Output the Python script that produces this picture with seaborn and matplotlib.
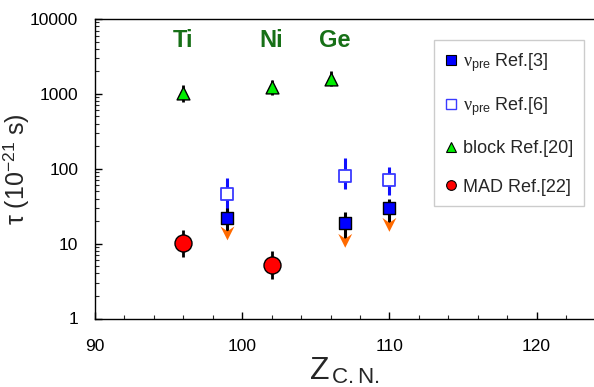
import numpy as np
import matplotlib
matplotlib.use("Agg")
import matplotlib.pyplot as plt
from matplotlib.lines import Line2D
from matplotlib.path import Path
import matplotlib.ticker as mticker
import seaborn as sns

# ---- data ----
z_ref3 = [99, 107, 110]
tau_ref3 = [22.3, 18.7, 29.7]
tau_ref3_hi = [30.0, 26.8, 39.3]
tau_ref3_limit = [13.7, 10.9, 17.8]

z_ref6 = [99, 107, 110]
tau_ref6 = [46.0, 81.0, 71.0]
tau_ref6_lo = [26.8, 53.4, 44.8]
tau_ref6_hi = [75.0, 139.0, 107.0]

z_block = [96, 102, 106]
tau_block = [1030.0, 1245.0, 1600.0]
tau_block_lo = [790.0, 980.0, 1270.0]
tau_block_hi = [1300.0, 1550.0, 2000.0]

z_mad = [96, 102]
tau_mad = [10.3, 5.2]
tau_mad_lo = [6.7, 3.4]
tau_mad_hi = [15.2, 7.9]

elements = ["Ti", "Ni", "Ge"]
element_z = [96, 102, 106.3]

y_ticks = [1, 10, 100, 1000, 10000]
x_ticks = [90, 100, 110, 120]

# ---- style ----
sns.set_style("ticks")
plt.rcParams["font.family"] = ["Liberation Sans", "DejaVu Sans"]
plt.rcParams["mathtext.fontset"] = "custom"
plt.rcParams["mathtext.rm"] = "Liberation Sans"
plt.rcParams["mathtext.it"] = "Liberation Serif"
plt.rcParams["mathtext.bf"] = "Liberation Sans:bold"

fig = plt.figure(figsize=(5.94, 3.87), dpi=100)
W, H = 594, 387
ax = fig.add_axes([95 / W, 1 - 318.5 / H, (594 - 95) / W, (318.5 - 19) / H])

ax.set_yscale("log")
ax.set_ylim(1, 10000)
ax.set_xlim(90, 90 + 499 / 14.72)

# error bars
ax.errorbar(z_ref6, tau_ref6,
            yerr=[np.subtract(tau_ref6, tau_ref6_lo), np.subtract(tau_ref6_hi, tau_ref6)],
            fmt="none", ecolor="#1010ff", elinewidth=2.2, capsize=0, zorder=2)
ax.errorbar(z_ref3, tau_ref3,
            yerr=[np.subtract(tau_ref3, tau_ref3_limit), np.subtract(tau_ref3_hi, tau_ref3)],
            fmt="none", ecolor="black", elinewidth=2.2, capsize=0, zorder=2)
ax.errorbar(z_block, tau_block,
            yerr=[np.subtract(tau_block, tau_block_lo), np.subtract(tau_block_hi, tau_block)],
            fmt="none", ecolor="black", elinewidth=2.0, capsize=0, zorder=2)
ax.errorbar(z_mad, tau_mad,
            yerr=[np.subtract(tau_mad, tau_mad_lo), np.subtract(tau_mad_hi, tau_mad)],
            fmt="none", ecolor="black", elinewidth=2.0, capsize=0, zorder=2)

# arrow (upper limit) marker
chevron = Path([(0, -1), (-1, 1), (0, 0.3), (1, 1), (0, -1)],
               [Path.MOVETO, Path.LINETO, Path.LINETO, Path.LINETO, Path.CLOSEPOLY])

sns.scatterplot(x=z_ref3, y=tau_ref3_limit, marker=chevron, s=100, color="#ff6a00",
                edgecolor="none", linewidth=0, ax=ax, zorder=3)
sns.scatterplot(x=z_ref6, y=tau_ref6, marker="s", s=75, color="white",
                edgecolor="#3a3aff", linewidth=1.3, ax=ax, zorder=4)
sns.scatterplot(x=z_ref3, y=tau_ref3, marker="s", s=85, color="#0000ff",
                edgecolor="black", linewidth=1.0, ax=ax, zorder=4)
sns.scatterplot(x=z_block, y=tau_block, marker="^", s=85, color="#00ee00",
                edgecolor="black", linewidth=1.0, ax=ax, zorder=4)
sns.scatterplot(x=z_mad, y=tau_mad, marker="o", s=150, color="#ff0000",
                edgecolor="black", linewidth=1.0, ax=ax, zorder=4)

for name, zx in zip(elements, element_z):
    ax.text(zx, 5200, name, color="#177017", fontsize=17, fontweight="bold",
            ha="center", va="center")

# axes styling
ax.spines["right"].set_visible(False)
for s in ["left", "bottom", "top"]:
    ax.spines[s].set_linewidth(1.0)
    ax.spines[s].set_color("black")

ax.set_yticks(y_ticks)
ax.yaxis.set_major_formatter(mticker.FixedFormatter([str(v) for v in y_ticks]))
ax.yaxis.set_minor_locator(mticker.LogLocator(base=10, subs=np.arange(2, 10)))
ax.yaxis.set_minor_formatter(mticker.NullFormatter())
ax.set_xticks(x_ticks)
ax.xaxis.set_minor_locator(mticker.MultipleLocator(2))

ax.tick_params(axis="both", which="major", direction="in", length=5, width=1,
               labelsize=12.5, colors="black", top=False, right=False)
ax.tick_params(axis="both", which="minor", direction="in", length=3, width=0.8,
               top=False, right=False)
ax.tick_params(axis="x", which="major", pad=15)
ax.tick_params(axis="y", which="major", pad=12)

ax.set_ylabel("τ (10$^{\\rm {-}21}$ s)", fontsize=18)
ax.yaxis.set_label_coords((31 - 95) / 499, 0.5)
ax.set_xlabel(r"Z$_{\,\rm C.N.}$", fontsize=23, labelpad=1)

handles = [
    Line2D([], [], ls="none", marker="s", ms=7, mfc="#0000ff", mec="black", mew=0.8),
    Line2D([], [], ls="none", marker="s", ms=7, mfc="white", mec="#3a3aff", mew=1.0),
    Line2D([], [], ls="none", marker="^", ms=7, mfc="#00ee00", mec="black", mew=0.8),
    Line2D([], [], ls="none", marker="o", ms=7, mfc="#ff0000", mec="black", mew=0.8),
]
labels = [r"$\nu_{\rm pre}$ Ref.[3]", r"$\nu_{\rm pre}$ Ref.[6]", "block Ref.[20]", "MAD Ref.[22]"]
leg = ax.legend(handles, labels, loc="upper right", bbox_to_anchor=(584 / W, 1 - 40 / H),
                bbox_transform=fig.transFigure, fontsize=13, frameon=True, fancybox=False,
                edgecolor="#cccccc", framealpha=1, labelspacing=1.2, handlelength=0.7,
                handletextpad=0.3, borderpad=0.6, borderaxespad=0)
leg.get_frame().set_linewidth(1.0)

fig.savefig("out.png", dpi=100)
